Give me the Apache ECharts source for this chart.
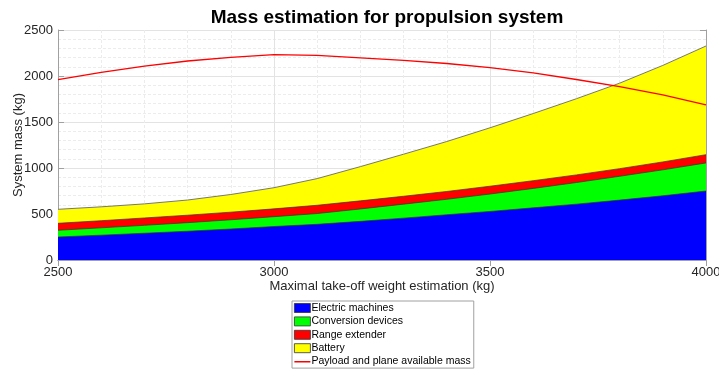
<!DOCTYPE html>
<html>
<head>
<meta charset="utf-8">
<script src="https://cdn.jsdelivr.net/npm/echarts@6/dist/echarts.min.js"></script>
<style>
html,body{margin:0;padding:0;background:#fff;}
#chart{width:719px;height:371px;}
</style>
</head>
<body>
<div id="chart"></div>
<script>
const mtow = [2500,2600,2700,2800,2900,3000,3100,3200,3300,3400,3500,3600,3700,3800,3900,4000];
const electricMachines = [250,270,291,313,337,364,388,420,455,492,528,567,607,651,698,750];
const conversionDevices = [73,80,86,93,100,107,117,135,152,168,189,211,235,259,282,305];
const rangeExtender = [76,77,80,81,83,85,90,88,86,85,85,84,83,83,86,90];
const battery = [152,151,153,165,192,230,290,372,457,543,635,730,828,929,1049,1181];
const payloadAvailable = [1960,2040,2108,2163,2203,2232,2225,2198,2170,2136,2090,2035,1962,1885,1795,1685];
const xTicks = [2500,3000,3500,4000];
const yTicks = [0,500,1000,1500,2000,2500];

// cumulative stacking (bottom to top)
const layers = [electricMachines, conversionDevices, rangeExtender, battery];
const cumulative = [];
layers.forEach((arr, k) => {
  cumulative.push(arr.map((v, i) => v + (k ? cumulative[k-1][i] : 0)));
});
const pairs = arr => mtow.map((x,i)=>[x,arr[i]]);
const FONT = 'Liberation Sans, Arial, sans-serif';
const names = ['Electric machines','Conversion devices','Range extender','Battery'];
const colors = ['#0000ff','#00ff00','#ff0000','#ffff00'];

function areaSeries(k){
  return {
    name:names[k], type:'line', data:pairs(cumulative[k]),
    showSymbol:false, symbol:'none', smooth:false,
    lineStyle: k===3 ? {color:'#777', width:1} : {color:'#333', width:0.7},
    areaStyle:{color:colors[k], opacity:1, origin:'start'}, itemStyle:{color:colors[k]},
    emphasis:{disabled:true}, z:2
  };
}
const noFmt = v => String(v);
const sw = {icon:'rect', itemStyle:{borderColor:'#333', borderWidth:0.8}};

const chart = echarts.init(document.getElementById('chart'), null, {renderer:'canvas'});
chart.setOption({
  animation:false,
  backgroundColor:'#fff',
  title:{
    text:'Mass estimation for propulsion system',
    left:382, top:3, textAlign:'center',
    textStyle:{fontFamily:FONT, fontSize:19, fontWeight:'bold', color:'#000'}
  },
  grid:{left:58, right:13, top:30, bottom:111, containLabel:false, outerBoundsMode:'none'},
  legend:{
    orient:'vertical', left:292, top:301, height:120,
    itemWidth:16, itemHeight:9, itemGap:2.4,
    padding:[1.5,3,1,2],
    borderColor:'#a0a0a0', borderWidth:1, backgroundColor:'#fff',
    textStyle:{fontFamily:FONT, fontSize:10.5, color:'#000', padding:[0,0,0,-4]},
    data:[
      Object.assign({name:names[0]}, sw),
      Object.assign({name:names[1]}, sw),
      Object.assign({name:names[2]}, sw),
      Object.assign({name:names[3]}, sw),
      {name:'Payload and plane available mass',
       icon:'path://M0,0 L0.01,0 L0.01,9 L0,9 Z M0,3.8 L16,3.8 L16,5.3 L0,5.3 Z',
       itemStyle:{color:'#ff0000', borderColor:'#ff0000', borderWidth:0}}
    ]
  },
  xAxis:[{
    type:'value', min:xTicks[0], max:xTicks[xTicks.length-1], interval:500,
    name:'Maximal take-off weight estimation (kg)', nameLocation:'middle', nameGap:20, nameMoveOverlap:false,
    nameTextStyle:{fontFamily:FONT, fontSize:13, color:'#262626'},
    axisLine:{show:true, lineStyle:{color:'#a0a0a0', width:1}},
    axisTick:{show:true, inside:true, length:6, lineStyle:{color:'#a0a0a0'}},
    axisLabel:{fontFamily:FONT, fontSize:13, color:'#262626', margin:6, formatter:noFmt},
    splitLine:{show:true, lineStyle:{color:'#e3e3e3', width:1}},
    minorTick:{show:false, splitNumber:5},
    minorSplitLine:{show:true, lineStyle:{color:'#ececec', width:1, type:[3,2]}}
  },{
    type:'value', position:'top', min:xTicks[0], max:xTicks[xTicks.length-1], interval:500,
    axisLine:{show:true, lineStyle:{color:'#a0a0a0', width:1}},
    axisTick:{show:true, inside:true, length:6, lineStyle:{color:'#a0a0a0'}},
    axisLabel:{show:false}, splitLine:{show:false}
  }],
  yAxis:[{
    type:'value', min:yTicks[0], max:yTicks[yTicks.length-1], interval:500,
    name:'System mass (kg)', nameLocation:'middle', nameGap:33, nameMoveOverlap:false,
    nameTextStyle:{fontFamily:FONT, fontSize:13, color:'#262626'},
    axisLine:{show:true, lineStyle:{color:'#a0a0a0', width:1}},
    axisTick:{show:true, inside:true, length:6, lineStyle:{color:'#a0a0a0'}},
    axisLabel:{fontFamily:FONT, fontSize:13, color:'#262626', margin:5, formatter:noFmt},
    splitLine:{show:true, lineStyle:{color:'#e3e3e3', width:1}},
    minorTick:{show:false, splitNumber:5},
    minorSplitLine:{show:true, lineStyle:{color:'#ececec', width:1, type:[3,2]}}
  },{
    type:'value', position:'right', min:yTicks[0], max:yTicks[yTicks.length-1], interval:500,
    axisLine:{show:true, lineStyle:{color:'#a0a0a0', width:1}},
    axisTick:{show:true, inside:true, length:6, lineStyle:{color:'#a0a0a0'}},
    axisLabel:{show:false}, splitLine:{show:false}
  }],
  series:[
    areaSeries(3), areaSeries(2), areaSeries(1), areaSeries(0),
    {
      name:'Payload and plane available mass', type:'line', data:pairs(payloadAvailable),
      showSymbol:false, symbol:'none',
      lineStyle:{color:'#ff0000', width:1.3},
      itemStyle:{color:'#ff0000'}, emphasis:{disabled:true}, z:5
    }
  ]
});
</script>
</body>
</html>
